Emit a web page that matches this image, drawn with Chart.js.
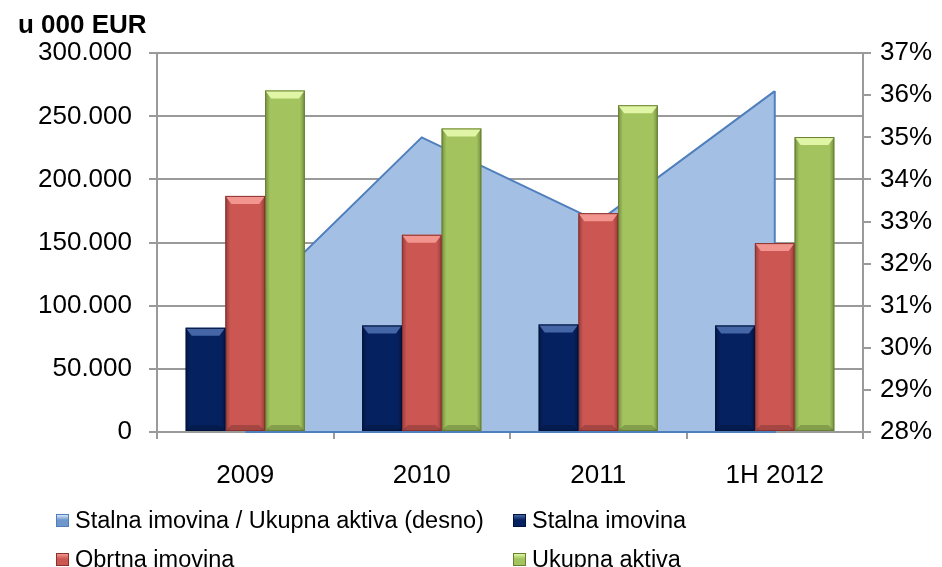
<!DOCTYPE html>
<html>
<head>
<meta charset="UTF-8">
<title>Stalna imovina / Ukupna aktiva</title>
<script src="https://cdn.jsdelivr.net/npm/chart.js@4.4.1/dist/chart.umd.min.js"></script>
<style>
  body { margin: 0; background: #fff; overflow: hidden; }
  #wrap { position: relative; width: 942px; height: 567px; }
  #legend { position: absolute; left: 0; top: 0; width: 942px; height: 567px;
    font-family: 'Liberation Sans', Arial, sans-serif; font-size: 23.5px; color: #000; pointer-events: none; }
  .leg-item { position: absolute; white-space: nowrap; display: flex; align-items: center; height: 26px; }
  .leg-box { width: 13px; height: 13px; margin-right: 6px; box-sizing: border-box; }
</style>
</head>
<body>
<div id="wrap">
  <canvas id="chart" width="942" height="567"></canvas>
  <div id="legend"></div>
</div>
<script>
const categories = ['2009', '2010', '2011', '1H 2012'];
const ratioLabel = 'Stalna imovina / Ukupna aktiva (desno)';
const ratioValues = [30.9, 35.0, 33.0, 36.1];
const fixedLabel = 'Stalna imovina';
const fixedAssets = [82500, 84300, 85100, 84300];
const currentLabel = 'Obrtna imovina';
const currentAssets = [187000, 156200, 173300, 149600];
const totalLabel = 'Ukupna aktiva';
const totalAssets = [270500, 240400, 258800, 233600];

const FONT = "'Liberation Sans', Arial, sans-serif";
const GRID = '#9a9a9a';

// body, top cap, outline
const PAL = {
  fixed: ['#06215f', '#4566a6', '#00123a'],
  current: ['#cb5652', '#f3958f', '#8a302d'],
  total: ['#a2c35d', '#e0f6a6', '#66802f'],
};

function dotted(v) {
  return String(v).replace(/\B(?=(\d{3})+(?!\d))/g, '.');
}

// extra edges for the area, bevel look for the bars
// (drawn per dataset so the bars still cover the area)
const bevelPlugin = {
  id: 'bevel',
  afterDatasetDraw(chart, args) {
    const ctx = chart.ctx;
    const ds = chart.data.datasets[args.index];
    const meta = args.meta;
    if (ds.type !== 'bar') {
      const pts = meta.data;
      if (!pts.length) return;
      const last = pts[pts.length - 1], first = pts[0];
      const base = chart.scales.y1.bottom;
      ctx.save();
      ctx.strokeStyle = ds.borderColor;
      ctx.lineWidth = 2;
      ctx.beginPath();
      ctx.moveTo(last.x, last.y);
      ctx.lineTo(last.x, base);
      ctx.lineTo(first.x, base);
      ctx.stroke();
      ctx.restore();
      return;
    }
    meta.data.forEach(el => {
      const p = el.getProps(['x', 'y', 'base', 'width'], true);
      const l = p.x - p.width / 2, r = p.x + p.width / 2;
      const t = p.y, b = p.base;
      const d = 6;
      ctx.save();
      // side shading
      let g = ctx.createLinearGradient(l, 0, r, 0);
      g.addColorStop(0, 'rgba(0,0,0,0.28)');
      g.addColorStop(0.12, 'rgba(0,0,0,0)');
      g.addColorStop(0.88, 'rgba(0,0,0,0)');
      g.addColorStop(1, 'rgba(0,0,0,0.28)');
      ctx.fillStyle = g;
      ctx.fillRect(l, t, r - l, b - t);
      // top cap
      ctx.beginPath();
      ctx.moveTo(l, t); ctx.lineTo(r, t);
      ctx.lineTo(r - d, t + d + 2); ctx.lineTo(l + d, t + d + 2);
      ctx.closePath();
      ctx.fillStyle = ds.capColor;
      ctx.fill();
      // bottom bevel
      ctx.beginPath();
      ctx.moveTo(l, b); ctx.lineTo(r, b);
      ctx.lineTo(r - d, b - d); ctx.lineTo(l + d, b - d);
      ctx.closePath();
      ctx.fillStyle = 'rgba(0,0,0,0.18)';
      ctx.fill();
      ctx.strokeStyle = ds.borderColor;
      ctx.lineWidth = 1;
      ctx.strokeRect(l + 0.5, t + 0.5, r - l - 1, b - t - 1);
      ctx.restore();
    });
  }
};

function barSet(label, data, pal) {
  return {
    type: 'bar',
    label: label,
    data: data,
    yAxisID: 'y',
    backgroundColor: pal[0],
    capColor: pal[1],
    borderColor: pal[2],
    borderWidth: 0,
    categoryPercentage: 0.675,
    barPercentage: 1.0,
    order: 1,
  };
}

const chart = new Chart(document.getElementById('chart'), {
  data: {
    labels: categories,
    datasets: [
      {
        type: 'line',
        label: ratioLabel,
        data: ratioValues,
        yAxisID: 'y1',
        fill: 'start',
        backgroundColor: '#a3bfe3',
        borderColor: '#4f7fbd',
        borderWidth: 2,
        pointRadius: 0,
        tension: 0,
        order: 2,
      },
      barSet(fixedLabel, fixedAssets, PAL.fixed),
      barSet(currentLabel, currentAssets, PAL.current),
      barSet(totalLabel, totalAssets, PAL.total),
    ],
  },
  options: {
    responsive: false,
    animation: false,
    layout: { padding: { left: 18, right: 0, top: 0, bottom: 75 } },
    plugins: {
      legend: { display: false },
      tooltip: { enabled: false },
      title: {
        display: true,
        text: 'u 000 EUR',
        align: 'start',
        color: '#000',
        font: { family: FONT, size: 26, weight: 'bold', lineHeight: 1.2 },
        padding: { top: 10, bottom: 12 },
      },
    },
    scales: {
      x: {
        offset: true,
        grid: { offset: true, drawOnChartArea: false, drawTicks: true, tickLength: 7, color: GRID, lineWidth: 2 },
        border: { color: GRID, width: 2 },
        ticks: { color: '#000', font: { family: FONT, size: 26 }, padding: 21 },
        afterFit(s) { s.height = 60; },
      },
      y: {
        position: 'left',
        min: 0,
        max: 300000,
        ticks: { stepSize: 50000, color: '#000', font: { family: FONT, size: 26 }, padding: 17, callback: v => dotted(v) },
        grid: { color: GRID, lineWidth: 2, tickLength: 8 },
        border: { color: GRID, width: 2 },
        afterFit(s) { s.width = 139; },
      },
      y1: {
        position: 'right',
        min: 28,
        max: 37,
        ticks: { stepSize: 1, color: '#000', font: { family: FONT, size: 26 }, padding: 9, callback: v => v + '%' },
        grid: { drawOnChartArea: false, color: GRID, lineWidth: 2, tickLength: 8 },
        border: { color: GRID, width: 2 },
        afterFit(s) { s.width = 79; },
      },
    },
  },
  plugins: [bevelPlugin],
});

// legend in two columns, built from the datasets
const legendPos = [[56, 507], [513, 507], [56, 546], [513, 546]];
const legendEl = document.getElementById('legend');
chart.data.datasets.forEach((ds, k) => {
  const item = document.createElement('div');
  item.className = 'leg-item';
  item.style.left = legendPos[k][0] + 'px';
  item.style.top = legendPos[k][1] + 'px';
  const box = document.createElement('span');
  box.className = 'leg-box';
  const base = ds.type === 'bar' ? ds.backgroundColor : '#6f97cc';
  const cap = ds.type === 'bar' ? ds.capColor : '#d6e6f8';
  box.style.background = `linear-gradient(180deg, ${cap} 0%, ${base} 45%, ${base} 100%)`;
  box.style.border = '1px solid ' + (ds.type === 'bar' ? ds.borderColor : '#4f7fbd');
  const txt = document.createElement('span');
  txt.textContent = ds.label;
  item.appendChild(box);
  item.appendChild(txt);
  legendEl.appendChild(item);
});
</script>
</body>
</html>
